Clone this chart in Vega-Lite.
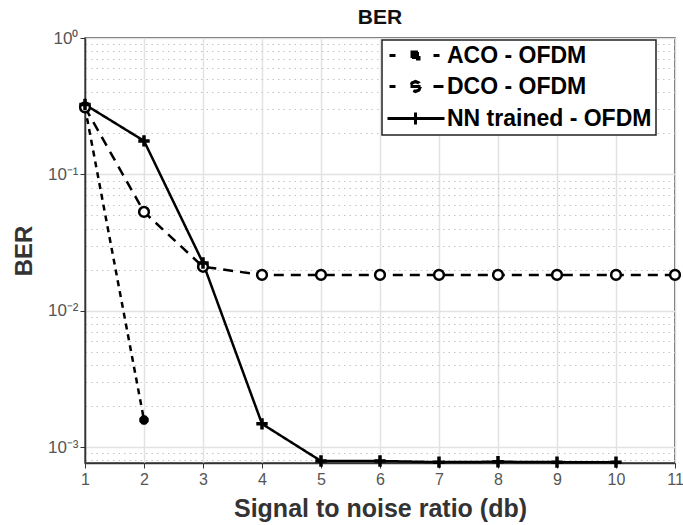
{
  "$schema": "https://vega.github.io/schema/vega-lite/v6.json",
  "width": 590,
  "height": 425,
  "autosize": "none",
  "padding": {"left": 85, "top": 38, "right": 8, "bottom": 62},
  "background": "white",
  "config": {
    "view": {"stroke": "#333", "strokeWidth": 1.5},
    "font": "Liberation Sans"
  },
  "title": {"text": "BER", "fontSize": 21, "fontWeight": "bold", "color": "#111", "offset": 1, "font": "Liberation Sans"},
  "data": {
    "values": [
      {"snr": 1, "ber": 0.31, "series": "ACO - OFDM"},
      {"snr": 2, "ber": 0.00158, "series": "ACO - OFDM"},
      {"snr": 1, "ber": 0.31, "series": "DCO - OFDM"},
      {"snr": 2, "ber": 0.053, "series": "DCO - OFDM"},
      {"snr": 3, "ber": 0.021, "series": "DCO - OFDM"},
      {"snr": 4, "ber": 0.0183, "series": "DCO - OFDM"},
      {"snr": 5, "ber": 0.0183, "series": "DCO - OFDM"},
      {"snr": 6, "ber": 0.0183, "series": "DCO - OFDM"},
      {"snr": 7, "ber": 0.0183, "series": "DCO - OFDM"},
      {"snr": 8, "ber": 0.0183, "series": "DCO - OFDM"},
      {"snr": 9, "ber": 0.0183, "series": "DCO - OFDM"},
      {"snr": 10, "ber": 0.0183, "series": "DCO - OFDM"},
      {"snr": 11, "ber": 0.0183, "series": "DCO - OFDM"},
      {"snr": 1, "ber": 0.325, "series": "NN trained - OFDM"},
      {"snr": 2, "ber": 0.176, "series": "NN trained - OFDM"},
      {"snr": 3, "ber": 0.0224, "series": "NN trained - OFDM"},
      {"snr": 4, "ber": 0.00148, "series": "NN trained - OFDM"},
      {"snr": 5, "ber": 0.00079, "series": "NN trained - OFDM"},
      {"snr": 6, "ber": 0.00079, "series": "NN trained - OFDM"},
      {"snr": 7, "ber": 0.000775, "series": "NN trained - OFDM"},
      {"snr": 8, "ber": 0.00078, "series": "NN trained - OFDM"},
      {"snr": 9, "ber": 0.000775, "series": "NN trained - OFDM"},
      {"snr": 10, "ber": 0.000775, "series": "NN trained - OFDM"}
    ]
  },
  "resolve": {"axis": {"y": "independent"}},
  "layer": [
    {
      "mark": {"type": "point", "opacity": 0},
      "encoding": {
        "x": {
          "field": "snr", "type": "quantitative", "scale": {"domain": [1, 11]},
          "axis": {
            "values": [1, 2, 3, 4, 5, 6, 7, 8, 9, 10, 11],
            "format": "d", "labelFlush": false,
            "grid": true, "gridColor": "#e2e2e2", "gridWidth": 1.5,
            "domainColor": "#333", "domainWidth": 1.5, "tickColor": "#333", "tickSize": 5,
            "labelFontSize": 16, "labelColor": "#555", "labelPadding": 3,
            "title": "Signal to noise ratio (db)", "titleFontSize": 25, "titleFontWeight": "bold", "titleColor": "#333", "titlePadding": 9
          }
        },
        "y": {
          "field": "ber", "type": "quantitative",
          "scale": {"type": "log", "domain": [0.000764, 1]},
          "axis": {
            "orient": "right",
            "values": [0.0008, 0.0009, 0.002, 0.003, 0.004, 0.005, 0.006, 0.007, 0.008, 0.009, 0.02, 0.03, 0.04, 0.05, 0.06, 0.07, 0.08, 0.09, 0.2, 0.3, 0.4, 0.5, 0.6, 0.7, 0.8, 0.9],
            "grid": true, "gridColor": "#c4c4c4", "gridDash": [1.5, 4], "gridWidth": 1,
            "labels": false, "ticks": false, "domain": false, "title": null
          }
        }
      }
    },
    {
      "mark": {"type": "line", "color": "black", "strokeWidth": 2.5},
      "encoding": {
        "x": {"field": "snr", "type": "quantitative", "scale": {"domain": [1, 11]}},
        "y": {
          "field": "ber", "type": "quantitative",
          "scale": {"type": "log", "domain": [0.000764, 1]},
          "axis": {
            "values": [0.001, 0.01, 0.1, 1],
            "labelExpr": "datum.value >= 0.5 ? '10⁰' : datum.value >= 0.05 ? '10⁻¹' : datum.value >= 0.005 ? '10⁻²' : '10⁻³'",
            "grid": true, "gridColor": "#e2e2e2", "gridWidth": 1.5,
            "domainColor": "#333", "domainWidth": 1.5, "tickColor": "#333", "tickSize": 5,
            "labelFontSize": 17, "labelColor": "#555", "labelPadding": 2,
            "title": "BER", "titleFontSize": 24, "titleFontWeight": "bold", "titleColor": "#333", "titlePadding": 11
          }
        },
        "detail": {"field": "series"},
        "strokeDash": {
          "field": "series", "type": "nominal",
          "scale": {"domain": ["ACO - OFDM", "DCO - OFDM", "NN trained - OFDM"], "range": [[6, 5], [10, 7], [1, 0]]},
          "legend": {
            "orient": "none", "legendX": 297, "legendY": 2,
            "title": null,
            "fillColor": "white", "strokeColor": "#222", "padding": 4,
            "labelFont": "Liberation Sans", "labelFontSize": 23, "labelFontWeight": "bold", "labelColor": "black",
            "labelLimit": 400, "labelOffset": 38,
            "symbolType": "M-1,0H4.7", "symbolSize": 400, "symbolStrokeWidth": 3, "symbolStrokeColor": "black",
            "symbolFillColor": "transparent",
            "rowPadding": 7,
            "encode": {
              "legend": {"update": {"strokeWidth": {"value": 1.5}}},
              "symbols": {
                "update": {
                  "shape": {"signal": "datum.value === 'ACO - OFDM' ? 'M-0.8,0H-0.2M3.6,0H4.7M1.45,-0.35H2.15V0.35H1.45ZM1.8,-0.5V0.5' : datum.value === 'DCO - OFDM' ? 'M-0.8,0H-0.2M3.6,0H4.7M2.3,0L2.15,0.35L1.8,0.5L1.45,0.35L1.3,0L1.45,-0.35L1.8,-0.5L2.15,-0.35ZM1.3,0H2.3' : 'M-1,0H4.7M1.8,-0.6V0.6'"},
                  "fill": {"signal": "datum.value === 'ACO - OFDM' ? 'black' : 'transparent'"},
                  "stroke": {"value": "black"},
                  "strokeWidth": {"value": 3},
                  "opacity": {"value": 1},
                  "strokeDash": {"value": [1, 0]}
                }
              }
            }
          }
        }
      }
    },
    {
      "transform": [{"filter": "datum.series === 'ACO - OFDM'"}],
      "mark": {"type": "point", "shape": "M-1,0H1M0,-1V1M-0.7,-0.7L0.7,0.7M-0.7,0.7L0.7,-0.7", "filled": false, "color": "black", "strokeWidth": 3.5, "size": 90, "opacity": 1},
      "encoding": {
        "x": {"field": "snr", "type": "quantitative", "scale": {"domain": [1, 11]}},
        "y": {"field": "ber", "type": "quantitative", "scale": {"type": "log", "domain": [0.000764, 1]}, "axis": null}
      }
    },
    {
      "transform": [{"filter": "datum.series === 'DCO - OFDM'"}],
      "mark": {"type": "point", "shape": "circle", "fill": "white", "stroke": "black", "strokeWidth": 2.5, "size": 95, "opacity": 1, "fillOpacity": 1},
      "encoding": {
        "x": {"field": "snr", "type": "quantitative", "scale": {"domain": [1, 11]}},
        "y": {"field": "ber", "type": "quantitative", "scale": {"type": "log", "domain": [0.000764, 1]}, "axis": null}
      }
    },
    {
      "transform": [{"filter": "datum.series === 'NN trained - OFDM'"}],
      "mark": {"type": "point", "shape": "M-1,0H1M0,-1V1", "filled": false, "color": "black", "strokeWidth": 3.5, "size": 130, "opacity": 1},
      "encoding": {
        "x": {"field": "snr", "type": "quantitative", "scale": {"domain": [1, 11]}},
        "y": {"field": "ber", "type": "quantitative", "scale": {"type": "log", "domain": [0.000764, 1]}, "axis": null}
      }
    }
  ]
}
